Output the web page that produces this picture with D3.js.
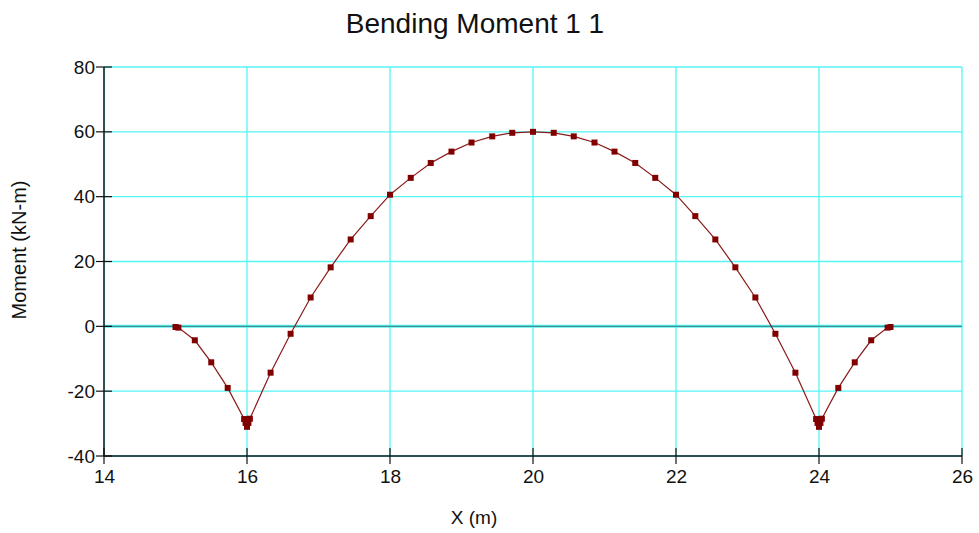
<!DOCTYPE html>
<html>
<head>
<meta charset="utf-8">
<script src="https://cdn.jsdelivr.net/npm/d3@7"></script>
<style>
  html, body { margin: 0; padding: 0; background: #ffffff; }
  svg { display: block; font-family: "Liberation Sans", Arial, sans-serif; }
</style>
</head>
<body>
<svg id="chart" width="979" height="533"></svg>
<script>
// Bending moment along the beam: position (m) and moment (kN-m)
const xValues = [
  15.0, 15.04, 15.27, 15.5, 15.73, 15.96, 15.98, 16.0, 16.02, 16.04,
  16.33, 16.61, 16.89, 17.17, 17.45, 17.73, 18.0, 18.29, 18.57, 18.86,
  19.14, 19.43, 19.71, 20.0, 20.29, 20.57, 20.86, 21.14, 21.43, 21.71,
  22.0, 22.27, 22.55, 22.83, 23.11, 23.39, 23.67, 23.96, 23.98, 24.0,
  24.02, 24.04, 24.27, 24.5, 24.73, 24.96, 25.0
];
const momentValues = [
  -0.2, -0.4, -4.3, -11.1, -19.0, -28.6, -29.8, -31.0, -29.8, -28.5,
  -14.3, -2.3, 8.9, 18.2, 26.8, 34.0, 40.6, 45.8, 50.4, 53.9,
  56.7, 58.6, 59.7, 60.0, 59.7, 58.6, 56.7, 53.9, 50.4, 45.8,
  40.6, 34.0, 26.8, 18.2, 8.9, -2.3, -14.3, -28.6, -29.8, -31.0,
  -29.8, -28.5, -19.0, -11.1, -4.3, -0.4, -0.2
];
const xTicks = [14, 16, 18, 20, 22, 24, 26];
const yTicks = [-40, -20, 0, 20, 40, 60, 80];

const titleText = "Bending Moment 1 1";
const xLabel = "X (m)";
const yLabel = "Moment (kN-m)";

const svg = d3.select("#chart");
const plot = { left: 104, right: 962, top: 67, bottom: 456 };

const x = d3.scaleLinear().domain([14, 26]).range([plot.left, plot.right]);
const y = d3.scaleLinear().domain([-40, 80]).range([plot.bottom, plot.top]);

// Grid
const grid = svg.append("g");
grid.selectAll("line.v").data(xTicks.slice(1)).join("line")
  .attr("x1", d => x(d)).attr("x2", d => x(d))
  .attr("y1", plot.top).attr("y2", plot.bottom)
  .attr("stroke", "#55f5f5").attr("stroke-width", 1.3);
grid.selectAll("line.h").data(yTicks.slice(1)).join("line")
  .attr("x1", plot.left).attr("x2", plot.right)
  .attr("y1", d => y(d)).attr("y2", d => y(d))
  .attr("stroke", "#55f5f5").attr("stroke-width", d => d === 0 ? 3 : 1.3);
// Zero reference line
svg.append("line")
  .attr("x1", plot.left).attr("x2", plot.right)
  .attr("y1", y(0)).attr("y2", y(0))
  .attr("stroke", "#3f8f8f").attr("stroke-width", 1.2);

// Axes (plain hyphen-minus labels)
const fmt = d => String(d);
const xAxis = d3.axisBottom(x).tickValues(xTicks).tickFormat(fmt).tickSize(0).tickPadding(9);
const yAxis = d3.axisLeft(y).tickValues(yTicks).tickFormat(fmt).tickSize(0).tickPadding(9);

const gx = svg.append("g").attr("transform", `translate(0,${plot.bottom})`).call(xAxis);
const gy = svg.append("g").attr("transform", `translate(${plot.left},0)`).call(yAxis);
[gx, gy].forEach(g => {
  g.select(".domain").remove();
  g.selectAll("text").attr("font-size", 19).attr("fill", "#111")
    .attr("font-family", "'Liberation Sans', Arial, sans-serif");
});
gx.selectAll("text").attr("dy", "0.95em");

// Axis lines
svg.append("line").attr("x1", plot.left).attr("x2", plot.right)
  .attr("y1", plot.bottom).attr("y2", plot.bottom)
  .attr("stroke", "#2a5252").attr("stroke-width", 2);
svg.append("line").attr("x1", plot.left).attr("x2", plot.left)
  .attr("y1", plot.top).attr("y2", plot.bottom)
  .attr("stroke", "#2a5252").attr("stroke-width", 2);

// Tick marks crossing the axes
svg.append("g").selectAll("line").data(xTicks).join("line")
  .attr("x1", d => x(d)).attr("x2", d => x(d))
  .attr("y1", plot.bottom - 8).attr("y2", plot.bottom + 8)
  .attr("stroke", "#111").attr("stroke-width", 1.2);
svg.append("g").selectAll("line").data(yTicks).join("line")
  .attr("x1", plot.left - 8).attr("x2", plot.left + 8)
  .attr("y1", d => y(d)).attr("y2", d => y(d))
  .attr("stroke", "#111").attr("stroke-width", 1.2);

// Moment curve
const pts = xValues.map((v, i) => [v, momentValues[i]]);
svg.append("path").datum(pts)
  .attr("fill", "none").attr("stroke", "#8b1a1a").attr("stroke-width", 1.2)
  .attr("d", d3.line().x(d => x(d[0])).y(d => y(d[1])));
svg.append("g").selectAll("rect").data(pts).join("rect")
  .attr("x", d => x(d[0]) - 3).attr("y", d => y(d[1]) - 3)
  .attr("width", 6).attr("height", 6)
  .attr("fill", "#800000");

// Titles
svg.append("text").attr("x", 475).attr("y", 33).attr("text-anchor", "middle")
  .attr("font-size", 28).attr("fill", "#111").text(titleText);
svg.append("text").attr("x", 474).attr("y", 524).attr("text-anchor", "middle")
  .attr("font-size", 19).attr("fill", "#111").text(xLabel);
svg.append("text").attr("transform", "translate(26,250) rotate(-90)")
  .attr("text-anchor", "middle").attr("font-size", 20).attr("fill", "#111").text(yLabel);
</script>
</body>
</html>
